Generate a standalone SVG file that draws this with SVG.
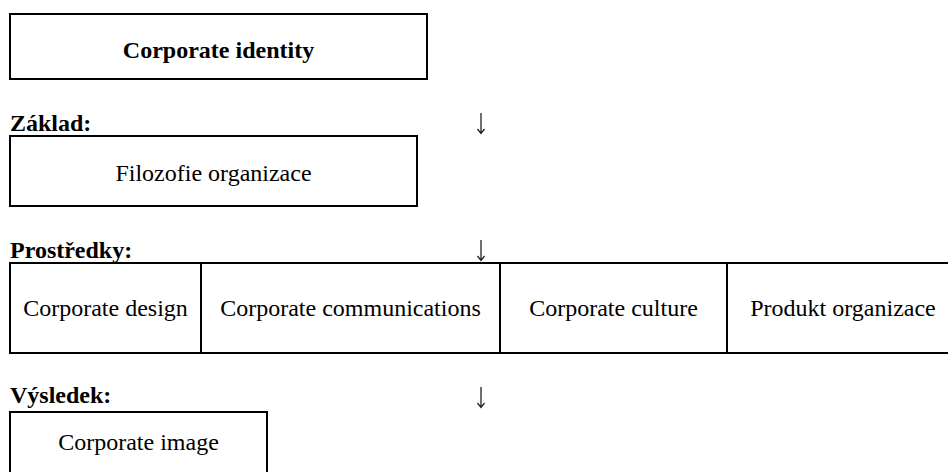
<svg xmlns="http://www.w3.org/2000/svg" width="948" height="472" viewBox="0 0 948 472">
<style>
text{font-family:"Liberation Serif","Times New Roman",serif;font-size:24px;fill:#000}
.b{font-weight:bold}
.c{text-anchor:middle}
.box{fill:#fff;stroke:#000;stroke-width:2}
.ln{stroke:#000;stroke-width:2}
.arr{fill:none;stroke:#222;stroke-width:1.3}
</style>
<rect width="948" height="472" fill="#fff"/>
<g id="identity">
<rect class="box" x="10" y="14" width="417" height="65"/>
<text class="b c" x="218.5" y="58">Corporate identity</text>
</g>
<g id="label-zaklad"><text class="b" x="10" y="131">Základ:</text></g>
<g id="filozofie">
<rect class="box" x="10" y="136" width="407" height="70"/>
<text class="c" x="213.5" y="181">Filozofie organizace</text>
</g>
<g id="label-prostredky"><text class="b" x="10" y="258">Prostředky:</text></g>
<g id="prostredky">
<rect class="box" x="10" y="263" width="950" height="90"/>
<line class="ln" x1="201" y1="263" x2="201" y2="353"/>
<line class="ln" x1="500" y1="263" x2="500" y2="353"/>
<line class="ln" x1="727" y1="263" x2="727" y2="353"/>
</g>
<g id="design"><text class="c" x="105.5" y="316">Corporate design</text></g>
<g id="communications"><text class="c" x="350.5" y="316">Corporate communications</text></g>
<g id="culture"><text class="c" x="613.5" y="316">Corporate culture</text></g>
<g id="produkt"><text class="c" x="843" y="316">Produkt organizace</text></g>
<g id="label-vysledek"><text class="b" x="10" y="403">Výsledek:</text></g>
<g id="image">
<rect class="box" x="10" y="412" width="257" height="80"/>
<text class="c" x="138.5" y="450">Corporate image</text>
</g>
<g id="connectors">
<path class="arr" d="M481,113 V133 M477.5,129 L481,133.5 L484.5,129"/>
<path class="arr" d="M481,240 V260 M477.5,256 L481,260.5 L484.5,256"/>
<path class="arr" d="M481,387 V407 M477.5,403 L481,407.5 L484.5,403"/>
</g>
</svg>
